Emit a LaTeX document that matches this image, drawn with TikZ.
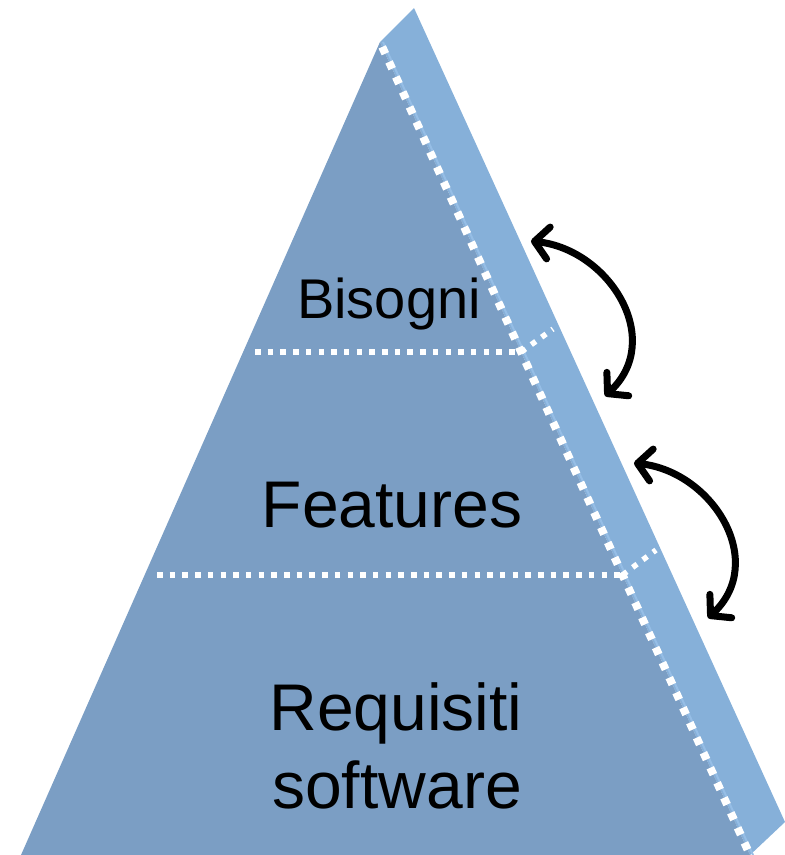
\documentclass[tikz,border=0pt]{standalone}
\usepackage{fontspec}
\setmainfont{Liberation Sans}
\usetikzlibrary{arrows.meta,calc}
\definecolor{frontc}{RGB}{123,158,196}
\definecolor{sidec}{RGB}{134,176,217}
\definecolor{edgec}{RGB}{150,190,230}
\tikzset{
  edgedots/.style={white, line width=8pt, dash pattern=on 7.5pt off 9pt},
  levdots/.style={white, line width=5.5pt, dash pattern=on 5.5pt off 7.2pt},
  label/.style={inner sep=0pt, anchor=base, text=black},
  curvearrow/.style={black, line width=7pt, line cap=round,
    {Straight Barb[length=14pt, width=32pt, line cap=round, line join=round]}-{Straight Barb[length=14pt, width=32pt, line cap=round, line join=round]}}
}
\begin{document}
\begin{tikzpicture}[x=1pt,y=-1pt]
\useasboundingbox (0,0) rectangle (785,855);
% faces
\fill[sidec] (380,42) -- (414,8) -- (785,822) -- (750,855) -- cycle;
\fill[frontc] (380,42) -- (21,855) -- (750,855) -- cycle;
% coordinates
\coordinate (apex) at (380,42);
\coordinate (base) at (750,855);
\coordinate (e1) at (521,352);
\coordinate (e2) at (622.5,575);
\coordinate (l1) at (255,352);
\coordinate (l2) at (157,575);
\coordinate (s1) at (553,329);
\coordinate (s2) at (656,550);
% edge line
\draw[edgec, line width=2pt] ($(apex)+(3,0)$) -- ($(base)+(3,0)$);
\draw[edgedots] ($(apex)!0.006!(base)$) -- ($(apex)!0.995!(base)$);
% level lines
\draw[levdots] (l1) -- (e1);
\draw[levdots] (l2) -- (e2);
\draw[levdots] (e1) -- (s1);
\draw[levdots] (e2) -- (s2);
% labels
\node[label, font=\fontsize{56}{60}\selectfont] (bis) at (389,318) {Bisogni};
\node[label, font=\fontsize{66}{72}\selectfont] (fea) at (392,527) {Features};
\node[label, font=\fontsize{66}{72}\selectfont] (req) at (396,730) {Requisiti};
\node[label, font=\fontsize{66}{72}\selectfont] (sw) at (397,808) {software};
% arrows
\coordinate (a1s) at (531,241);
\coordinate (a1e) at (605,396);
\coordinate (a2s) at (634,463);
\coordinate (a2e) at (708,618);
\draw[curvearrow] (a1s) .. controls (610,250) and (665,340) .. (a1e);
\draw[curvearrow] (a2s) .. controls (713,472) and (768,562) .. (a2e);
\end{tikzpicture}
\end{document}
